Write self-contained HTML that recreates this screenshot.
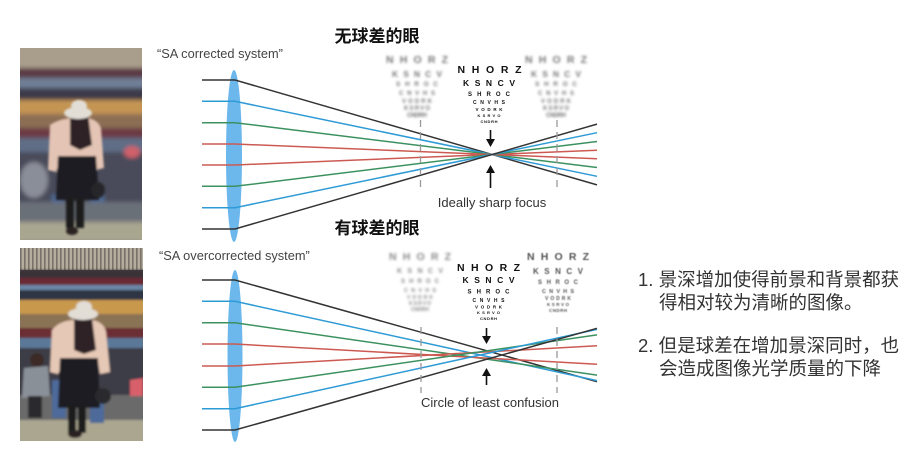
<!DOCTYPE html>
<html><head><meta charset="utf-8">
<style>
html,body{margin:0;padding:0;background:#fff;}
body{width:920px;height:456px;position:relative;overflow:hidden;font-family:"Liberation Sans","Noto Sans CJK SC",sans-serif;}
.rt{position:absolute;left:638px;color:#333;font-size:18.5px;line-height:23px;font-family:"Liberation Sans","Noto Sans CJK SC",sans-serif;white-space:nowrap;}
</style></head><body>
<svg width="920" height="456" viewBox="0 0 920 456" xmlns="http://www.w3.org/2000/svg" style="position:absolute;left:0;top:0">
<defs>
<filter id="b3" x="-20%" y="-20%" width="140%" height="140%"><feGaussianBlur stdDeviation="2.2"/></filter>
<filter id="b1" x="-20%" y="-20%" width="140%" height="140%"><feGaussianBlur stdDeviation="1"/></filter>
<filter id="bc" x="-20%" y="-50%" width="140%" height="200%"><feGaussianBlur stdDeviation="1.3"/></filter>
<filter id="bc2" x="-20%" y="-50%" width="140%" height="200%"><feGaussianBlur stdDeviation="0.6"/></filter>
<clipPath id="c1"><rect x="20" y="48" width="122" height="192"/></clipPath>
<clipPath id="c2"><rect x="20" y="248" width="123" height="193"/></clipPath>
<pattern id="roof" x="0" y="0" width="4" height="22" patternUnits="userSpaceOnUse">
<rect width="4" height="22" fill="#b4ac9c"/><rect width="1.6" height="22" fill="#7a7268"/>
</pattern>
</defs>

<!-- TOP PHOTO -->
<g clip-path="url(#c1)">
<g filter="url(#b3)">
<rect x="10" y="40" width="140" height="210" fill="#5a5a66"/>
<rect x="10" y="40" width="140" height="28" fill="#a99e8c"/>
<rect x="10" y="68" width="140" height="10" fill="#5c3a44"/>
<rect x="10" y="78" width="140" height="10" fill="#6f7f96"/>
<rect x="10" y="88" width="140" height="12" fill="#3c3a48"/>
<rect x="10" y="100" width="140" height="14" fill="#c49452"/>
<rect x="10" y="114" width="140" height="14" fill="#8c6e54"/>
<rect x="10" y="128" width="140" height="10" fill="#6c3a44"/>
<rect x="10" y="138" width="140" height="14" fill="#5f6d86"/>
<rect x="10" y="152" width="140" height="50" fill="#4a4c5a"/>
<ellipse cx="34" cy="180" rx="14" ry="18" fill="#8a8e98"/>
<ellipse cx="132" cy="152" rx="8" ry="6" fill="#d0606a"/>
<rect x="52" y="195" width="12" height="25" fill="#4e6a9a"/>
<rect x="90" y="195" width="14" height="28" fill="#4e6a9a"/>
<rect x="10" y="202" width="140" height="22" fill="#6a7078"/>
<rect x="10" y="222" width="140" height="20" fill="#a9a690"/>
</g>
<g filter="url(#b1)">
<path d="M50 125 Q60 118 75 118 L88 118 Q98 120 101 128 L104 168 L96 170 L94 160 L60 160 L56 172 L48 170 Z" fill="#e4c4b4"/>
<path d="M70 114 L88 114 L92 145 L80 150 L70 145 Z" fill="#2e2226"/>
<path d="M58 156 L96 156 L99 200 L56 200 Z" fill="#1b1a20"/>
<rect x="66" y="198" width="8" height="30" fill="#1a1a1c"/>
<rect x="76" y="198" width="8" height="30" fill="#1a1a1c"/>
<ellipse cx="72" cy="231" rx="6" ry="4" fill="#2a2222"/>
<ellipse cx="98" cy="190" rx="7" ry="8" fill="#26262a"/>
<ellipse cx="78" cy="113" rx="14" ry="6" fill="#e2ded6"/>
<ellipse cx="79" cy="106" rx="8" ry="6" fill="#e2ded6"/>
</g>
</g>

<!-- BOTTOM PHOTO -->
<g clip-path="url(#c2)">
<rect x="20" y="248" width="123" height="193" fill="#44444c"/>
<rect x="20" y="248" width="123" height="22" fill="url(#roof)"/>
<g filter="url(#b1)">
<rect x="15" y="270" width="133" height="8" fill="#3a3038"/>
<rect x="15" y="278" width="133" height="7" fill="#6a2c34"/>
<rect x="15" y="285" width="133" height="5" fill="#6a86a6"/>
<rect x="15" y="290" width="133" height="10" fill="#2e3644"/>
<rect x="15" y="300" width="133" height="14" fill="#c8984e"/>
<rect x="15" y="314" width="133" height="14" fill="#8a7254"/>
<rect x="15" y="328" width="133" height="10" fill="#6c2e36"/>
<rect x="15" y="338" width="133" height="10" fill="#5b7898"/>
<rect x="15" y="348" width="133" height="60" fill="#3e3e46"/>
<rect x="15" y="395" width="133" height="25" fill="#6a6a6a"/>
<rect x="15" y="420" width="133" height="25" fill="#aaa690"/>
<ellipse cx="37" cy="360" rx="7" ry="7" fill="#3a2a26"/>
<path d="M24 368 L48 366 L50 396 L22 398 Z" fill="#8a9098"/>
<rect x="28" y="396" width="14" height="22" fill="#2a2a2e"/>
<rect x="52" y="380" width="14" height="38" fill="#4e6a9a"/>
<rect x="90" y="395" width="14" height="28" fill="#4e6a9a"/>
<path d="M130 380 L143 378 L143 396 L130 396 Z" fill="#d8606a"/>
<path d="M52 330 Q60 320 76 320 L92 320 Q104 322 106 332 L110 372 L100 374 L98 362 L64 362 L58 374 L50 372 Z" fill="#e6c8b6"/>
<path d="M74 318 L92 318 L96 350 L84 354 L74 350 Z" fill="#2e2226"/>
<path d="M60 358 L98 358 L100 408 L58 408 Z" fill="#1b1a20"/>
<rect x="68" y="405" width="8" height="28" fill="#1a1a1c"/>
<rect x="78" y="405" width="8" height="28" fill="#1a1a1c"/>
<ellipse cx="75" cy="434" rx="7" ry="4" fill="#2a2222"/>
<ellipse cx="103" cy="396" rx="8" ry="8" fill="#2a2a2e"/>
<ellipse cx="83" cy="314" rx="15" ry="6" fill="#e2ded6"/>
<ellipse cx="84" cy="307" rx="8" ry="6" fill="#e2ded6"/>
</g>
</g>

<!-- TITLES -->
<text x="377" y="42" font-size="17" font-weight="bold" text-anchor="middle" fill="#111" font-family="Noto Sans CJK SC, sans-serif">无球差的眼</text>
<text x="377" y="234" font-size="17" font-weight="bold" text-anchor="middle" fill="#111" font-family="Noto Sans CJK SC, sans-serif">有球差的眼</text>
<text x="157" y="58" font-size="12.8" fill="#444" font-family="Liberation Sans, sans-serif">“SA corrected system”</text>
<text x="159" y="260" font-size="12.8" fill="#444" font-family="Liberation Sans, sans-serif">“SA overcorrected system”</text>

<!-- TOP DIAGRAM -->
<ellipse cx="234" cy="156" rx="8" ry="86" fill="#6cb8ec"/>
<g fill="none" stroke-width="1.5">
<polyline points="202,80 235,80 597,184.9" stroke="#333"/>
<polyline points="202,101.3 235,101.3 597,176.3" stroke="#2e9bd6"/>
<polyline points="202,122.7 235,122.7 597,167.5" stroke="#3c9160"/>
<polyline points="202,144 235,144 597,158.8" stroke="#cc5a52"/>
<polyline points="202,165 235,165 597,150.2" stroke="#cc5a52"/>
<polyline points="202,186.3 235,186.3 597,141.5" stroke="#3c9160"/>
<polyline points="202,207.7 235,207.7 597,132.7" stroke="#2e9bd6"/>
<polyline points="202,229 235,229 597,124.1" stroke="#333"/>
</g>
<g stroke="#999" stroke-width="1.3" stroke-dasharray="7 5">
<line x1="420.5" y1="120" x2="420.5" y2="187"/>
<line x1="557" y1="120" x2="557" y2="187"/>
</g>
<g stroke="#111" stroke-width="1.6" fill="#111">
<line x1="490.5" y1="130" x2="490.5" y2="141"/>
<polygon points="486,139 495,139 490.5,147" stroke="none"/>
<line x1="490.5" y1="172" x2="490.5" y2="188"/>
<polygon points="486,173 495,173 490.5,165" stroke="none"/>
</g>
<text x="492" y="207" font-size="13" text-anchor="middle" fill="#333">Ideally sharp focus</text>

<!-- top charts -->
<g font-family="Liberation Sans, sans-serif" font-weight="bold" fill="#111" text-anchor="middle">
<text x="489.5" y="73" font-size="10.5" textLength="64" lengthAdjust="spacing">NHORZ</text>
<text x="489" y="86" font-size="8.5" textLength="52" lengthAdjust="spacing">KSNCV</text>
<text x="489" y="96" font-size="6" textLength="42" lengthAdjust="spacing">SHROC</text>
<text x="489" y="104" font-size="5" textLength="32" lengthAdjust="spacing">CNVHS</text>
<text x="489" y="111" font-size="4.5" textLength="27" lengthAdjust="spacing">VODRK</text>
<text x="489" y="117" font-size="4" textLength="23" lengthAdjust="spacing">KSRVO</text>
<text x="489" y="123" font-size="4" textLength="17" lengthAdjust="spacing">CNDRH</text>
</g>
<g font-family="Liberation Sans, sans-serif" font-weight="bold" fill="#777" text-anchor="middle" filter="url(#bc)">
<text x="417" y="63" font-size="10.5" textLength="62" lengthAdjust="spacing">NHORZ</text>
<text x="417" y="77" font-size="8.5" textLength="50" lengthAdjust="spacing">KSNCV</text>
<text x="417" y="86" font-size="6.5" textLength="42" lengthAdjust="spacing">SHROC</text>
<text x="417" y="95" font-size="6" textLength="36" lengthAdjust="spacing">CNVHS</text>
<text x="417" y="103" font-size="6" textLength="30" lengthAdjust="spacing">VODRK</text>
<text x="417" y="110" font-size="6" textLength="26" lengthAdjust="spacing">KSRVO</text>
<text x="417" y="117" font-size="6" textLength="20" lengthAdjust="spacing">CNDRH</text>
<text x="556" y="63" font-size="10.5" textLength="62" lengthAdjust="spacing">NHORZ</text>
<text x="556" y="77" font-size="8.5" textLength="50" lengthAdjust="spacing">KSNCV</text>
<text x="556" y="86" font-size="6.5" textLength="42" lengthAdjust="spacing">SHROC</text>
<text x="556" y="95" font-size="6" textLength="36" lengthAdjust="spacing">CNVHS</text>
<text x="556" y="103" font-size="6" textLength="30" lengthAdjust="spacing">VODRK</text>
<text x="556" y="110" font-size="6" textLength="26" lengthAdjust="spacing">KSRVO</text>
<text x="556" y="117" font-size="6" textLength="20" lengthAdjust="spacing">CNDRH</text>
</g>

<!-- BOTTOM DIAGRAM -->
<ellipse cx="235" cy="356" rx="7.5" ry="86" fill="#6cb8ec"/>
<g fill="none" stroke-width="1.5">
<polyline points="202,280 235,280 597,381.7" stroke="#333"/>
<polyline points="202,301.3 235,301.3 597,380.6" stroke="#2e9bd6"/>
<polyline points="202,322.7 235,322.7 597,375.1" stroke="#3c9160"/>
<polyline points="202,344 235,344 597,364.3" stroke="#cc5a52"/>
<polyline points="202,366 235,366 597,345.7" stroke="#cc5a52"/>
<polyline points="202,387.3 235,387.3 597,334.9" stroke="#3c9160"/>
<polyline points="202,408.7 235,408.7 597,329.4" stroke="#2e9bd6"/>
<polyline points="202,430 235,430 597,328.3" stroke="#333"/>
</g>
<g stroke="#999" stroke-width="1.3" stroke-dasharray="7 5">
<line x1="421" y1="327" x2="421" y2="393"/>
<line x1="557" y1="327" x2="557" y2="393"/>
</g>
<g stroke="#111" stroke-width="1.6" fill="#111">
<line x1="486.5" y1="328" x2="486.5" y2="338"/>
<polygon points="482,336 491,336 486.5,344" stroke="none"/>
<line x1="486.5" y1="375" x2="486.5" y2="385"/>
<polygon points="482,376 491,376 486.5,368" stroke="none"/>
</g>
<text x="490" y="407" font-size="13" text-anchor="middle" fill="#333">Circle of least confusion</text>

<g font-family="Liberation Sans, sans-serif" font-weight="bold" fill="#111" text-anchor="middle">
<text x="488.5" y="271" font-size="10.5" textLength="63" lengthAdjust="spacing">NHORZ</text>
<text x="488.5" y="283" font-size="8.5" textLength="52" lengthAdjust="spacing">KSNCV</text>
<text x="488.5" y="293.5" font-size="6" textLength="42" lengthAdjust="spacing">SHROC</text>
<text x="488.5" y="302" font-size="5" textLength="32" lengthAdjust="spacing">CNVHS</text>
<text x="488.5" y="308.5" font-size="4.5" textLength="27" lengthAdjust="spacing">VODRK</text>
<text x="488.5" y="314" font-size="4" textLength="23" lengthAdjust="spacing">KSRVO</text>
<text x="488.5" y="320" font-size="4" textLength="17" lengthAdjust="spacing">CNDRH</text>
</g>
<g font-family="Liberation Sans, sans-serif" font-weight="bold" fill="#888" text-anchor="middle" filter="url(#bc)">
<text x="420" y="260" font-size="10.5" textLength="62" lengthAdjust="spacing">NHORZ</text>
<text x="420" y="273" font-size="7" textLength="46" lengthAdjust="spacing">KSNCV</text>
<text x="420" y="283" font-size="6" textLength="38" lengthAdjust="spacing">SHROC</text>
<text x="420" y="292" font-size="5.5" textLength="32" lengthAdjust="spacing">CNVHS</text>
<text x="420" y="299" font-size="5" textLength="26" lengthAdjust="spacing">VODRK</text>
<text x="420" y="305" font-size="5" textLength="22" lengthAdjust="spacing">KSRVO</text>
<text x="420" y="311" font-size="5" textLength="18" lengthAdjust="spacing">CNDRH</text>
</g>
<g font-family="Liberation Sans, sans-serif" font-weight="bold" fill="#555" text-anchor="middle" filter="url(#bc2)">
<text x="558" y="260" font-size="10.5" textLength="62" lengthAdjust="spacing">NHORZ</text>
<text x="558" y="274" font-size="8" textLength="50" lengthAdjust="spacing">KSNCV</text>
<text x="558" y="284" font-size="6" textLength="40" lengthAdjust="spacing">SHROC</text>
<text x="558" y="293" font-size="5.5" textLength="32" lengthAdjust="spacing">CNVHS</text>
<text x="558" y="300" font-size="5" textLength="26" lengthAdjust="spacing">VODRK</text>
<text x="558" y="306" font-size="4.5" textLength="22" lengthAdjust="spacing">KSRVO</text>
<text x="558" y="312" font-size="4.5" textLength="18" lengthAdjust="spacing">CNDRH</text>
</g>
</svg>

<div class="rt" style="top:268px;">1. 景深增加使得前景和背景都获</div>
<div class="rt" style="top:291px;left:659px;">得相对较为清晰的图像。</div>
<div class="rt" style="top:334px;">2. 但是球差在增加景深同时，也</div>
<div class="rt" style="top:357px;left:659px;">会造成图像光学质量的下降</div>
</body></html>
